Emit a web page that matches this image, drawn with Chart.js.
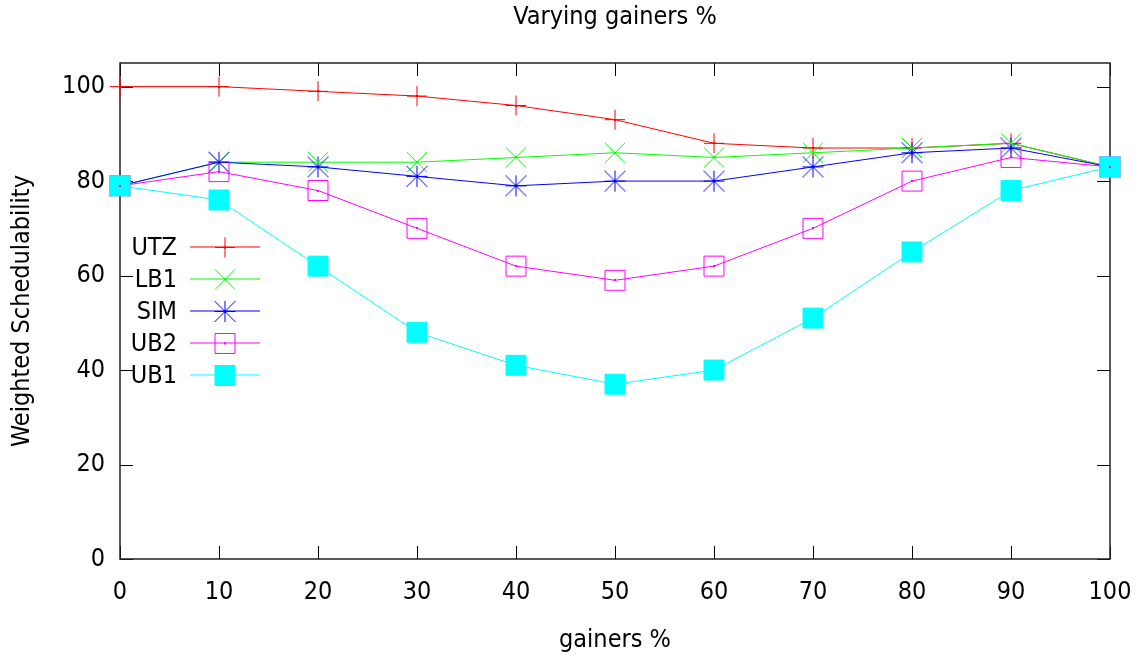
<!DOCTYPE html>
<html><head><meta charset="utf-8">
<script src="https://cdn.jsdelivr.net/npm/chart.js@4/dist/chart.umd.min.js"></script>
<style>html,body{margin:0;padding:0;background:#fff}#wrap{width:1140px;height:655px;position:relative}</style>
</head><body><div id="wrap"><canvas id="c"></canvas></div>
<script>
const gainers = [0, 10, 20, 30, 40, 50, 60, 70, 80, 90, 100];
const utz = [100, 100, 99, 98, 96, 93, 88, 87, 87, 88, 83];
const lb1 = [79, 84, 84, 84, 85, 86, 85, 86, 87, 88, 83];
const sim = [79, 84, 83, 81, 79, 80, 80, 83, 86, 87, 83];
const ub2 = [79, 82, 78, 70, 62, 59, 62, 70, 80, 85, 83];
const ub1 = [79, 76, 62, 48, 41, 37, 40, 51, 65, 78, 83];
const seriesNames = ['UTZ', 'LB1', 'SIM', 'UB2', 'UB1'];
const xTickValues = [0, 10, 20, 30, 40, 50, 60, 70, 80, 90, 100];
const yTickValues = [0, 20, 40, 60, 80, 100];
const chartTitle = 'Varying gainers %';
const xTitle = 'gainers %';
const yTitle = 'Weighted Schedulability';

const FONT = "'DejaVu Sans Condensed', 'DejaVu Sans', sans-serif";
const FS = 25;

function starCanvas(color, r) {
  const s = Math.ceil(r * 2 + 4);
  const cv = document.createElement('canvas');
  cv.width = s; cv.height = s;
  const g = cv.getContext('2d');
  const c = s / 2;
  g.strokeStyle = color; g.lineWidth = 1;
  g.beginPath();
  g.moveTo(c, c - r); g.lineTo(c, c + r);
  g.moveTo(c - r, c); g.lineTo(c + r, c);
  g.moveTo(c - r, c - r); g.lineTo(c + r, c + r);
  g.moveTo(c - r, c + r); g.lineTo(c + r, c - r);
  g.stroke();
  return cv;
}
const simStar = starCanvas('#0000ff', 10.5);

function mk(label, data, color, style, radius, fill, order) {
  return {
    label, data: data.map((v, i) => ({x: gainers[i], y: v})),
    borderColor: color, backgroundColor: fill ? color : 'rgba(0,0,0,0)',
    pointBorderColor: color, pointBackgroundColor: fill ? color : 'rgba(0,0,0,0)',
    borderWidth: 1, pointBorderWidth: 1, pointStyle: style, pointRadius: radius,
    pointHoverRadius: radius, tension: 0, fill: false, order, clip: false, centerDot: !fill
  };
}
const datasets = [
  mk(seriesNames[0], utz, '#ff0000', 'cross', 10, false, 4),
  mk(seriesNames[1], lb1, '#00ff00', 'crossRot', 14.1, false, 3),
  mk(seriesNames[2], sim, '#0000ff', simStar, 10.5, false, 2),
  mk(seriesNames[3], ub2, '#ff00ff', 'rect', 14.1, false, 1),
  mk(seriesNames[4], ub1, '#00ffff', 'rect', 14.1, true, 0)
];

const framePlugin = {
  id: 'frame',
  beforeDatasetsDraw(chart) {
    const {ctx, chartArea: a, scales} = chart;
    ctx.save();
    ctx.strokeStyle = '#000'; ctx.lineWidth = 1;
    ctx.beginPath();
    const L = 13;
    xTickValues.forEach(v => {
      const px = Math.round(scales.x.getPixelForValue(v)) + 0.5;
      ctx.moveTo(px, a.bottom); ctx.lineTo(px, a.bottom - L);
      ctx.moveTo(px, a.top); ctx.lineTo(px, a.top + L);
    });
    yTickValues.forEach(v => {
      const py = Math.round(scales.y.getPixelForValue(v)) + 0.5;
      ctx.moveTo(a.left, py); ctx.lineTo(a.left + L, py);
      ctx.moveTo(a.right, py); ctx.lineTo(a.right - L, py);
    });
    ctx.stroke();
    ctx.lineWidth = 1.5; ctx.strokeStyle = '#222';
    ctx.strokeRect(a.left, a.top, a.right - a.left, a.bottom - a.top);
    ctx.restore();
  }
};

function legendMarker(ctx, ds, x, y) {
  const st = ds.pointStyle, r = ds.pointRadius;
  ctx.strokeStyle = ds.borderColor; ctx.fillStyle = ds.pointBackgroundColor; ctx.lineWidth = 1;
  if (st instanceof HTMLCanvasElement) { ctx.drawImage(st, x - st.width / 2, y - st.height / 2); return; }
  ctx.beginPath();
  if (st === 'cross') { ctx.moveTo(x, y - r); ctx.lineTo(x, y + r); ctx.moveTo(x - r, y); ctx.lineTo(x + r, y); ctx.stroke(); }
  else if (st === 'crossRot') { const o = r * Math.SQRT1_2; ctx.moveTo(x - o, y - o); ctx.lineTo(x + o, y + o); ctx.moveTo(x - o, y + o); ctx.lineTo(x + o, y - o); ctx.stroke(); }
  else if (st === 'rect') { const o = r * Math.SQRT1_2; ctx.rect(x - o, y - o, 2 * o, 2 * o); ctx.fill(); ctx.stroke(); }
}

const dotsPlugin = {
  id: 'dots',
  afterDatasetsDraw(chart) {
    const {ctx} = chart;
    ctx.save();
    chart.data.datasets.forEach((ds, i) => {
      if (!ds.centerDot) return;
      ctx.fillStyle = ds.borderColor;
      chart.getDatasetMeta(i).data.forEach(p => { ctx.fillRect(Math.round(p.x) - 1, Math.round(p.y) - 1, 2, 2); });
    });
    ctx.restore();
  }
};

const legendPlugin = {
  id: 'gpLegend',
  afterDatasetsDraw(chart) {
    const {ctx} = chart;
    ctx.save();
    ctx.setLineDash([]);
    ctx.globalAlpha = 1;
    chart.data.datasets.forEach((ds, i) => {
      const yi = Math.round(246.5 + i * 32.2);
      const y = yi + 0.5;
      ctx.font = FS + 'px ' + FONT;
      ctx.textAlign = 'right'; ctx.textBaseline = 'middle'; ctx.fillStyle = '#000';
      ctx.fillText(ds.label, 177, y + 1);
      ctx.strokeStyle = ds.borderColor; ctx.lineWidth = 1.2;
      ctx.beginPath(); ctx.moveTo(190, yi); ctx.lineTo(260, yi); ctx.stroke();
      legendMarker(ctx, ds, 225, y);
      if (ds.centerDot) { ctx.fillStyle = ds.borderColor; ctx.fillRect(224, yi - 0.5, 2, 2); }
    });
    ctx.restore();
  }
};

new Chart(document.getElementById('c'), {
  type: 'line',
  data: {datasets},
  plugins: [framePlugin, dotsPlugin, legendPlugin],
  options: {
    responsive: true, maintainAspectRatio: false, animation: false, events: [],
    layout: {padding: {left: 0, right: 30, top: 0, bottom: 0}},
    plugins: {
      legend: {display: false}, tooltip: {enabled: false},
      title: {display: true, fullSize: false, text: chartTitle, color: '#000', font: {family: FONT, size: FS, weight: 'normal'}, padding: {top: 2, bottom: 31}}
    },
    scales: {
      x: {
        type: 'linear', min: 0, max: 100,
        afterBuildTicks: s => { s.ticks = xTickValues.map(v => ({value: v})); },
        afterFit: s => { s.height = 96; s.paddingRight = 0; s.paddingLeft = 0; },
        grid: {display: false, drawTicks: false}, border: {display: false},
        ticks: {color: '#000', padding: 18, maxRotation: 0, autoSkip: false, font: {family: FONT, size: FS}},
        title: {display: true, text: xTitle, color: '#000', font: {family: FONT, size: FS}, padding: {top: 0, bottom: 0}}
      },
      y: {
        type: 'linear', min: 0, max: 105,
        afterBuildTicks: s => { s.ticks = yTickValues.map(v => ({value: v})); },
        afterFit: s => { s.width = 120; s.paddingTop = 0; s.paddingBottom = 0; },
        grid: {display: false, drawTicks: false}, border: {display: false},
        ticks: {color: '#000', padding: 15, autoSkip: false, font: {family: FONT, size: FS}},
        title: {display: true, text: yTitle, color: '#000', font: {family: FONT, size: FS}, padding: {top: 7, bottom: 0}}
      }
    }
  }
});
</script></body></html>
